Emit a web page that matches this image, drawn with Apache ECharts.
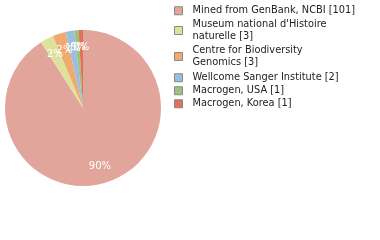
<!DOCTYPE html>
<html><head><meta charset="utf-8">
<script src="https://cdn.jsdelivr.net/npm/echarts@6/dist/echarts.min.js"></script>
<style>html,body{margin:0;padding:0;background:#fff}#c{width:380px;height:240px}</style>
</head><body><div id="c"></div>
<script>
var categories = ["Mined from GenBank, NCBI", "Museum national d'Histoire naturelle", "Centre for Biodiversity Genomics", "Wellcome Sanger Institute", "Macrogen, USA", "Macrogen, Korea"];
var legendLabels = ["Mined from GenBank, NCBI [101]", "Museum national d'Histoire\nnaturelle [3]", "Centre for Biodiversity\nGenomics [3]", "Wellcome Sanger Institute [2]", "Macrogen, USA [1]", "Macrogen, Korea [1]"];
var values = [101, 3, 3, 2, 1, 1];
var colors = ["#e1a59c", "#dde29b", "#f0a96f", "#9dbde0", "#9dc37a", "#e07357"];
var legendTops = [5, 19, 45, 72, 85, 98];

var total = values.reduce(function(a,b){return a+b;},0);
var data = categories.map(function(n,i){return {name:n, value:values[i], itemStyle:{color:colors[i]}};});
var font = "DejaVu Sans";
var legends = categories.map(function(n,i){
  return {orient:'vertical', left:174, top:legendTops[i], padding:0, data:[n], icon:'rect', itemWidth:8, itemHeight:8,
    itemStyle:{borderColor:'#888', borderWidth:1}, selectedMode:false,
    formatter:function(){return legendLabels[i];},
    textStyle:{fontFamily:font, fontSize:9.8, color:'#222', lineHeight:11.5, padding:[0,0,0,5]}};
});
var chart = echarts.init(document.getElementById('c'), null, {renderer:'canvas'});
chart.setOption({
  animation:false,
  legend: legends,
  series:[{
    type:'pie', center:[83,108], radius:[0,78], startAngle:90, clockwise:true,
    data:data, label:{show:false}, labelLine:{show:false}, emphasis:{disabled:true}
  },{
    type:'pie', center:[83,108], radius:[37,78], startAngle:90, clockwise:true, silent:true,
    data:categories.map(function(n,i){return {name:n, value:values[i], itemStyle:{color:'rgba(0,0,0,0)'}};}),
    label:{show:true, position:'inside', color:'#fff', fontFamily:font, fontSize:10,
      formatter:function(p){return Math.floor(p.value/total*100)+'%';}},
    labelLayout:{hideOverlap:false},
    labelLine:{show:false}, emphasis:{disabled:true}
  }]
});
</script></body></html>
